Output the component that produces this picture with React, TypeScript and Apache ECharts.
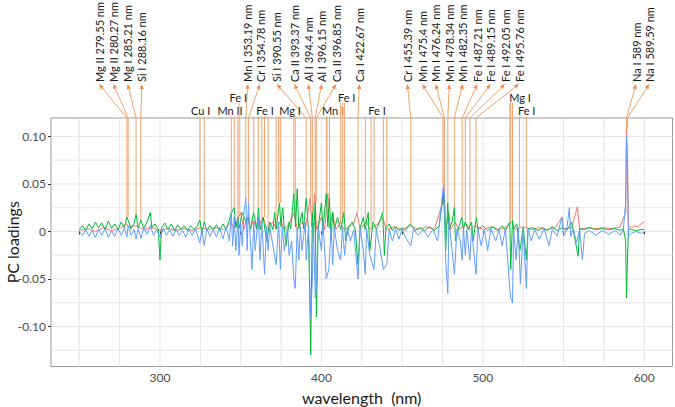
import React, { useEffect, useRef } from 'react';
import * as echarts from 'echarts';

// ---------- axis values ----------
const xTickValues = [250, 300, 350, 400, 450, 500, 550, 600];
const xLabelValues = [300, 400, 500, 600];
const yTickValues = [-0.1, -0.05, 0, 0.05, 0.1];
const xGridValues = [250, 275, 300, 325, 350, 375, 400, 425, 450, 475, 500, 525, 550, 575, 600];
const yGridValues = [-0.125, -0.1, -0.075, -0.05, -0.025, 0, 0.025, 0.05, 0.075, 0.1];

// ---------- spectra (wavelength nm, loading) ----------
const redPts: number[][] = [
  [250, 0.001], [255, 0.003], [260, 0.0], [265, 0.004], [270, 0.001], [275, 0.003], [279.5, 0.008], [280.3, 0.005],
  [285.2, 0.006], [290, 0.002], [295, 0.004], [300, 0.001], [305, 0.003], [310, 0.001], [315, 0.003], [320, 0.001],
  [325, 0.004], [330, 0.002], [335, 0.004], [340, 0.002], [344, 0.01], [346, 0.003], [350, 0.02], [352, 0.002],
  [354, 0.015], [356, 0.003], [358, 0.012], [360, 0.002], [364, 0.015], [366, 0.002], [370, 0.01], [372, 0.002],
  [375, 0.012], [377, 0.002], [380, 0.008], [383, 0.02], [385, 0.002], [388, 0.01], [390, 0.002], [393, 0.035],
  [394, 0.005], [396, 0.04], [397, 0.002], [400, 0.015], [402, 0.002], [404, 0.04], [405, 0.003], [407, 0.02],
  [409, 0.002], [412, 0.01], [414, 0.002], [420, 0.008], [422, 0.02], [424, 0.002], [428, 0.01], [430, 0.002],
  [435, 0.008], [438, 0.015], [440, 0.002], [445, 0.005], [450, 0.002], [455, 0.006], [460, 0.002], [465, 0.005],
  [470, 0.002], [475, 0.03], [476, 0.05], [477, 0.003], [479, 0.02], [480, 0.002], [483, 0.01], [485, 0.002],
  [490, 0.008], [492, 0.002], [495, 0.006], [500, 0.002], [505, 0.005], [510, 0.002], [515, 0.005], [518, 0.01],
  [520, 0.002], [525, 0.005], [530, 0.002], [535, 0.004], [540, 0.002], [545, 0.004], [549, 0.015], [550, 0.003],
  [555, 0.004], [558.6, 0.026], [560, 0.002], [565, 0.004], [570, 0.003], [575, 0.004], [580, 0.003], [585, 0.005],
  [588.5, 0.02], [589, 0.1075], [589.6, 0.08], [590.2, 0.006], [592, 0.004], [594, 0.006], [596, 0.005], [598, 0.008],
  [600, 0.01],
];

const greenPts: number[][] = [
  [250, 0.002], [252, 0.006], [254, 0.001], [256, 0.008], [258, 0.003], [260, 0.01], [262, 0.004], [264, 0.009],
  [266, 0.002], [268, 0.011], [270, 0.003], [272, 0.008], [274, 0.002], [276, 0.01], [278, 0.004], [279.5, 0.015],
  [280.3, 0.012], [282, 0.003], [284, 0.009], [285.2, 0.018], [286.5, 0.004], [288.2, 0.012], [290, 0.003], [292, 0.01],
  [294, 0.02], [295, 0.004], [297, 0.008], [299, 0.002], [300, -0.03], [301, 0.004], [303, 0.009], [305, 0.002],
  [307, 0.008], [309, 0.001], [311, 0.007], [313, 0.002], [315, 0.006], [317, 0.001], [319, 0.006], [321, 0.002],
  [323, 0.005], [324.7, 0.012], [326, -0.002], [327.4, 0.01], [329, 0.001], [331, 0.006], [333, 0.002], [335, 0.007],
  [337, 0.001], [339, 0.008], [341, 0.002], [343, 0.012], [344.2, 0.02], [346, 0.025], [347, 0.004], [348.3, 0.015],
  [349, 0.003], [351, 0.02], [353.2, 0.01], [354.8, 0.015], [356, 0.002], [358, 0.02], [360, 0.003], [361, 0.025],
  [362, 0.002], [364, 0.015], [366, -0.01], [368, 0.01], [370, 0.002], [371, 0.02], [372, 0.003], [374, 0.03],
  [375, 0.005], [376, 0.025], [378, -0.015], [380, 0.01], [381, 0.003], [382.9, 0.04], [384, 0.005], [385, 0.045],
  [386, 0.003], [388, 0.02], [389, 0.003], [390.6, 0.035], [392, 0.002], [393.4, -0.13], [394.4, 0.02], [395, -0.01],
  [396.2, 0.03], [396.9, -0.09], [398, 0.004], [400, 0.03], [401, 0.002], [403, 0.04], [404, 0.005], [405, 0.035],
  [406, -0.01], [407, 0.02], [408, 0.002], [410, 0.015], [412, 0.002], [414, 0.02], [415, -0.01], [417, 0.005],
  [419, 0.01], [421, 0.002], [422.7, -0.035], [424, 0.004], [426, 0.015], [427, 0.002], [429, 0.02], [430, -0.02],
  [432, 0.01], [434, 0.002], [436, 0.01], [438, 0.02], [439, -0.025], [440, 0.004], [442, 0.008], [444, 0.001],
  [446, 0.005], [448, 0.001], [450, 0.004], [452, 0.001], [455, 0.008], [458, 0.001], [461, 0.004], [464, 0.001],
  [467, 0.005], [470, 0.001], [473, 0.006], [475.4, 0.04], [476.2, 0.02], [477, -0.02], [478.3, 0.03], [479, 0.002],
  [481, 0.01], [482.4, 0.025], [483, -0.01], [485, 0.004], [487, 0.015], [488, 0.002], [489, 0.01], [491, 0.002],
  [493, 0.01], [494, -0.01], [496, 0.015], [497, 0.002], [500, 0.006], [503, 0.001], [506, 0.005], [509, 0.001],
  [512, 0.006], [514, 0.001], [516.7, 0.01], [517.3, -0.04], [518.4, 0.012], [519, 0.002], [521, 0.008], [523, -0.02],
  [525, 0.004], [527, -0.03], [528, 0.003], [531, 0.004], [534, 0.001], [537, 0.004], [540, 0.001], [543, 0.005],
  [546, 0.001], [549, 0.004], [552, 0.001], [555, 0.01], [556, 0.002], [559, -0.026], [560, 0.003], [563, 0.002],
  [566, 0.004], [570, 0.002], [574, 0.003], [578, 0.002], [582, 0.003], [585, 0.001], [587, 0.003], [588.5, -0.01],
  [589, -0.07], [589.6, -0.03], [590.2, 0.003], [592, 0.002], [595, 0.001], [598, 0.002], [600, 0.002],
];

const bluePts: number[][] = [
  [250, 0.0], [252, -0.004], [254, 0.002], [256, -0.005], [258, 0.001], [260, -0.006], [262, 0.002], [264, -0.004],
  [266, 0.003], [268, -0.006], [270, 0.001], [272, -0.005], [274, 0.003], [276, -0.004], [278, 0.004], [279.5, -0.006],
  [280.3, 0.006], [282, -0.004], [284, 0.002], [285.2, -0.008], [286.5, 0.003], [288.2, -0.007], [290, 0.004], [292, -0.003],
  [294, 0.006], [296, -0.004], [298, 0.002], [300, -0.006], [302, 0.003], [304, -0.004], [306, 0.002], [308, -0.005],
  [310, 0.003], [312, -0.004], [314, 0.001], [316, -0.006], [318, 0.002], [320, -0.004], [322, 0.003], [324.7, -0.012],
  [326, 0.002], [327.4, -0.015], [329, 0.003], [331, -0.005], [333, 0.002], [335, -0.006], [337, 0.004], [339, -0.008],
  [341, 0.005], [343, -0.01], [344.2, 0.02], [345, -0.015], [346, 0.015], [347, -0.02], [348.3, 0.012], [349, -0.025],
  [350, 0.01], [351, -0.015], [352, 0.02], [353.2, 0.035], [354, -0.02], [354.8, 0.03], [356, -0.01], [357, -0.04],
  [358.1, 0.01], [359, -0.02], [360.9, 0.015], [362, -0.03], [363.1, 0.01], [364.8, -0.045], [366, 0.005], [367, -0.02],
  [368, 0.005], [370, -0.015], [372, -0.035], [373.5, 0.01], [374.6, -0.04], [375.8, 0.005], [377, -0.02], [379, 0.004],
  [380, -0.025], [381.6, -0.01], [382.9, -0.05], [383.8, -0.06], [385, 0.003], [386, -0.03], [387, 0.005], [388, -0.02],
  [390, 0.01], [390.6, -0.03], [392, 0.005], [393.4, -0.09], [394.4, -0.05], [395, 0.01], [396.2, -0.07], [396.9, -0.06],
  [398, 0.005], [400, -0.02], [401, 0.01], [403, -0.05], [404.6, -0.04], [406, 0.005], [407, -0.035], [408, 0.004],
  [410, -0.02], [411.9, -0.03], [413, 0.004], [414.4, -0.025], [416, 0.003], [418, -0.01], [420, 0.002], [422.7, -0.05],
  [424, 0.003], [426, -0.02], [427.2, -0.045], [428, 0.003], [430, -0.025], [432.6, -0.04], [434, 0.002], [436, -0.015],
  [438.4, -0.04], [440.5, -0.035], [442, 0.002], [444, -0.01], [446, 0.003], [448, -0.008], [450, 0.002], [452, -0.006],
  [455.4, -0.015], [457, 0.002], [460, -0.004], [463, 0.002], [466, -0.006], [469, 0.002], [472, -0.01], [475.4, 0.045],
  [476.2, 0.04], [477, -0.03], [478.3, -0.065], [479, 0.01], [481, -0.02], [482.4, -0.045], [484, 0.003], [486, -0.01],
  [487.2, -0.03], [488, 0.003], [489.2, -0.025], [490, 0.002], [492, -0.03], [493, 0.002], [495.8, -0.045], [497, 0.003],
  [499, -0.015], [501, 0.002], [503, -0.02], [505, 0.003], [508, -0.01], [510, 0.002], [512, -0.015], [514, 0.003],
  [516.7, -0.06], [517.3, -0.07], [518.4, -0.075], [519, 0.003], [520.6, -0.03], [522, 0.004], [523.3, -0.055], [525, 0.002],
  [527, -0.06], [528, 0.003], [530, -0.01], [532, 0.002], [535, -0.008], [538, 0.003], [541, -0.015], [543, 0.002],
  [546, -0.005], [549, 0.015], [550, -0.005], [552, 0.002], [553.6, 0.025], [554.5, -0.005], [556, 0.003], [558, -0.012],
  [560, 0.002], [561.7, -0.03], [563, -0.002], [566, 0.001], [570, -0.004], [574, 0.001], [578, -0.003], [582, 0.001],
  [585, -0.004], [587, 0.002], [588.5, 0.03], [589, 0.1], [589.6, 0.06], [590.2, -0.005], [592, -0.002], [595, 0.0],
  [598, -0.002], [600, -0.001],
];

// ---------- annotations ----------
const topLabelText = [
  'Mg II 279.55 nm', 'Mg II 280.27 nm', 'Mg I 285.21 nm', 'Si I 288.16 nm',
  'Mn I 353.19 nm', 'Cr I 354.78 nm', 'Si I 390.55 nm', 'Ca II 393.37 nm', 'Al I 394.4 nm', 'Al I 396.15 nm',
  'Ca II 396.85 nm', 'Ca I 422.67 nm', 'Cr I 455.39 nm', 'Mn I 475.4 nm', 'Mn I 476.24 nm', 'Mn I 478.34 nm',
  'Mn I 482.35 nm', 'Fe I 487.21 nm', 'Fe I 489.15 nm', 'Fe I 492.05 nm', 'Fe I 495.76 nm', 'Na I 589 nm', 'Na I 589.59 nm',
];
const topLabelWl = [
  279.55, 280.27, 285.21, 288.16, 353.19, 354.78, 390.55, 393.37, 394.4, 396.15, 396.85, 422.67, 455.39,
  475.4, 476.24, 478.34, 482.35, 487.21, 489.15, 492.05, 495.76, 589, 589.59,
];
const lowerLabelText = ['Cu I', 'Mn II', 'Fe I', 'Fe I', 'Mg I', 'Mn I', 'Fe I', 'Fe I', 'Mg I', 'Fe I'];
const lowerLabelRow = [0, 0, 1, 0, 0, 0, 1, 0, 1, 0];
const lowerLabelLines: number[][] = [
  [324.75, 327.4], [344.2, 346.03, 348.29], [349.06], [358.12, 360.89, 363.15, 364.78, 367.0],
  [371.99, 373.49, 374.56, 382.93, 383.83], [403.08, 403.45, 405.0], [411.9, 413.2, 414.4],
  [427.2, 430.8, 432.6, 438.4, 440.5], [516.73, 517.27, 518.36], [522.7, 526.95],
];

// ---------- layout (pixels) ----------
const TOP_LABEL_X = [
  99, 113.3, 127.7, 141.7, 247.7, 260, 276.7, 294.3, 308.3, 321.7, 336, 359.3, 407.3,
  422.3, 435.7, 449.3, 462.7, 477.3, 490.7, 505, 519, 636, 649.3,
];
const LOWER_LABEL_X = [200.7, 230, 238.3, 265, 290, 333, 346.7, 377, 520, 526.7];
const TOP_LABEL_Y = 82;
const ROW_Y = [110.5, 97];

const X_MIN = 232.5;
const X_MAX = 617.5;
const Y_MIN = -0.1421;
const Y_MAX = 0.1194;

const FONT = 'Lato, "Open Sans", sans-serif';
const ORANGE = '#F2A36E';
const ORANGE_DARK = '#EE8E50';

function peakNear(w: number): number {
  let best = 0;
  for (const pts of [redPts, greenPts, bluePts]) {
    for (let i = 0; i < pts.length; i++) {
      if (Math.abs(pts[i][0] - w) <= 0.8 && pts[i][1] > best) best = pts[i][1];
    }
    for (let i = 0; i < pts.length - 1; i++) {
      const [x0, y0] = pts[i];
      const [x1, y1] = pts[i + 1];
      if (x0 <= w && w <= x1) {
        const v = y0 + ((y1 - y0) * (w - x0)) / (x1 - x0);
        if (v > best) best = v;
      }
    }
  }
  return best;
}

export default function App() {
  const ref = useRef<HTMLDivElement>(null);
  useEffect(() => {
    document.body.style.margin = '0';
    const chart = echarts.init(ref.current as HTMLDivElement, null, { renderer: 'svg' });

    const option: any = {
      animation: false,
      grid: {
        left: 51,
        right: 2.5,
        top: 118,
        bottom: 40.5,
        show: true,
        containLabel: false,
        outerBoundsMode: 'none',
        borderColor: '#9a9a9a',
        borderWidth: 1,
        backgroundColor: 'transparent',
      },
      xAxis: {
        type: 'value',
        min: X_MIN,
        max: X_MAX,
        name: 'wavelength  (nm)',
        nameLocation: 'middle',
        nameGap: 23,
        nameMoveOverlap: false,
        nameTextStyle: { fontFamily: FONT, fontSize: 16, color: '#1a1a1a', verticalAlign: 'top' },
        axisLine: { show: false },
        axisTick: { show: true, customValues: xTickValues, length: 3, lineStyle: { color: '#333', width: 1 } },
        axisLabel: {
          customValues: xLabelValues,
          margin: 5,
          color: '#4d4d4d',
          fontFamily: FONT,
          fontSize: 12,
          formatter: (v: number) => String(Math.round(v)),
        },
        splitLine: { show: false },
      },
      yAxis: {
        type: 'value',
        min: Y_MIN,
        max: Y_MAX,
        name: 'PC loadings',
        nameLocation: 'middle',
        nameGap: 31,
        nameRotate: 90,
        nameMoveOverlap: false,
        nameTextStyle: { fontFamily: FONT, fontSize: 16, color: '#1a1a1a' },
        axisLine: { show: false },
        axisTick: { show: true, customValues: yTickValues, length: 3, lineStyle: { color: '#333', width: 1 } },
        axisLabel: {
          customValues: yTickValues,
          margin: 5,
          color: '#4d4d4d',
          fontFamily: FONT,
          fontSize: 12,
          formatter: (v: number) => (Math.abs(v) < 1e-9 ? '0' : v.toFixed(2)),
        },
        splitLine: { show: false },
      },
      series: [
        {
          type: 'custom',
          name: 'vgrid',
          silent: true,
          z: 0,
          clip: false,
          data: xGridValues.map((v) => [v, 0]),
          renderItem: (params: any, api: any) => {
            const cs = params.coordSys;
            const x = api.coord([api.value(0), 0])[0];
            return {
              type: 'line',
              shape: { x1: x, y1: cs.y, x2: x, y2: cs.y + cs.height },
              style: { stroke: '#e6e6e6', lineWidth: 1 },
            };
          },
        },
        {
          type: 'custom',
          name: 'hgrid',
          silent: true,
          z: 0,
          clip: false,
          data: yGridValues.map((v) => [X_MIN, v]),
          renderItem: (params: any, api: any) => {
            const cs = params.coordSys;
            const y = api.coord([X_MIN, api.value(1)])[1];
            return {
              type: 'line',
              shape: { x1: cs.x, y1: y, x2: cs.x + cs.width, y2: y },
              style: { stroke: '#e6e6e6', lineWidth: 1 },
            };
          },
        },
        {
          type: 'custom',
          name: 'topAnnot',
          silent: true,
          z: 1,
          clip: false,
          data: topLabelWl.map((w) => [w, 0]),
          renderItem: (params: any, api: any) => {
            const cs = params.coordSys;
            const i = params.dataIndex;
            const w = api.value(0);
            const x = api.coord([w, 0])[0];
            const yEnd = api.coord([w, peakNear(w)])[1];
            const topY = cs.y;
            const lx = TOP_LABEL_X[i];
            const ly = TOP_LABEL_Y + 2;
            const dx = lx - x;
            const dy = ly - topY;
            const len = Math.sqrt(dx * dx + dy * dy);
            const ux = dx / len;
            const uy = dy / len;
            const ah = 5;
            const aw = 2.2;
            const bx = lx - ux * ah;
            const by = ly - uy * ah;
            return {
              type: 'group',
              children: [
                { type: 'line', shape: { x1: x, y1: yEnd, x2: x, y2: topY }, style: { stroke: ORANGE, lineWidth: 1 } },
                { type: 'line', shape: { x1: x, y1: topY, x2: bx, y2: by }, style: { stroke: ORANGE, lineWidth: 1 } },
                {
                  type: 'polygon',
                  shape: { points: [[lx, ly], [bx - uy * aw, by + ux * aw], [bx + uy * aw, by - ux * aw]] },
                  style: { fill: ORANGE_DARK },
                },
                {
                  type: 'text',
                  x: lx,
                  y: TOP_LABEL_Y,
                  rotation: Math.PI / 2,
                  style: {
                    text: topLabelText[i],
                    fill: '#1a1a1a',
                    fontFamily: FONT,
                    fontSize: 11,
                    align: 'left',
                    verticalAlign: 'middle',
                  },
                },
              ],
            };
          },
        },
        {
          type: 'custom',
          name: 'lowerAnnot',
          silent: true,
          z: 1,
          clip: false,
          data: lowerLabelLines.map((ws) => [ws[0], 0]),
          renderItem: (params: any, api: any) => {
            const i = params.dataIndex;
            const rowY = ROW_Y[lowerLabelRow[i]];
            const children: any[] = [];
            for (const w of lowerLabelLines[i]) {
              const x = api.coord([w, 0])[0];
              const yEnd = api.coord([w, peakNear(w)])[1];
              children.push({
                type: 'line',
                shape: { x1: x, y1: yEnd, x2: x, y2: rowY + 6 },
                style: { stroke: ORANGE, lineWidth: 1 },
              });
            }
            children.push({
              type: 'text',
              x: LOWER_LABEL_X[i],
              y: rowY,
              style: {
                text: lowerLabelText[i],
                fill: '#1a1a1a',
                fontFamily: FONT,
                fontSize: 11,
                align: 'center',
                verticalAlign: 'middle',
              },
            });
            return { type: 'group', children };
          },
        },
        {
          type: 'line',
          name: 'PC red',
          data: redPts,
          showSymbol: false,
          symbol: 'none',
          z: 2,
          lineStyle: { color: '#F8766D', width: 1 },
        },
        {
          type: 'line',
          name: 'PC green',
          data: greenPts,
          showSymbol: false,
          symbol: 'none',
          z: 3,
          lineStyle: { color: '#00BA38', width: 1 },
        },
        {
          type: 'line',
          name: 'PC blue',
          data: bluePts,
          showSymbol: false,
          symbol: 'none',
          z: 4,
          lineStyle: { color: '#619CFF', width: 1 },
        },
      ],
    };

    chart.setOption(option);
    return () => chart.dispose();
  }, []);
  return <div ref={ref} style={{ width: 675, height: 407 }} />;
}
